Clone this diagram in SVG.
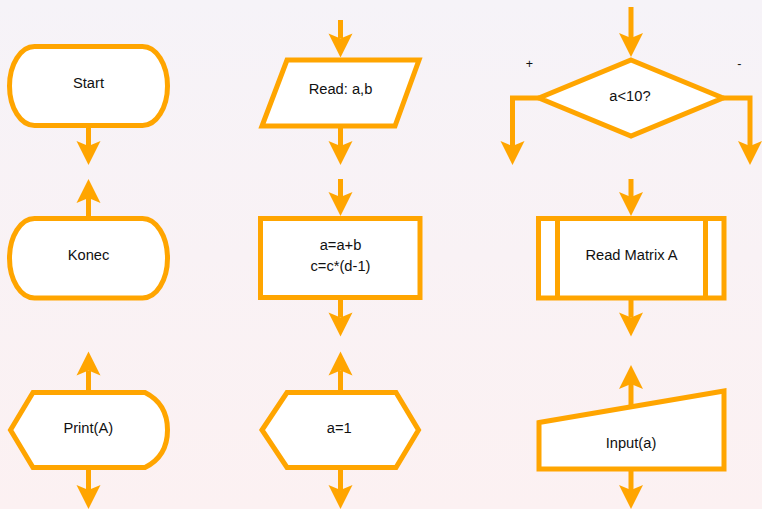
<svg xmlns="http://www.w3.org/2000/svg" width="762" height="509" viewBox="0 0 762 509">
  <defs>
    <linearGradient id="bg" x1="0" y1="0" x2="0" y2="1">
      <stop offset="0" stop-color="#F6F3F8"/>
      <stop offset="1" stop-color="#FCF1F2"/>
    </linearGradient>
    <marker id="arrow" markerUnits="userSpaceOnUse" viewBox="-6 -13 26 26" markerWidth="26" markerHeight="26" refX="0" refY="0" orient="auto">
      <path d="M-5,-12 L19,0 L-5,12 L0,0 Z" fill="#FFA500"/>
    </marker>
  </defs>
  <style>
    .shape { fill: #FFFFFF; stroke: #FFA500; stroke-width: 5; stroke-linejoin: miter; }
    .edge { fill: none; stroke: #FFA500; stroke-width: 5; marker-end: url(#arrow); }
    .label { font-family: "Liberation Sans", Arial, sans-serif; font-size: 14.7px; fill: #111111; text-anchor: middle; }
    .small { font-family: "Liberation Sans", Arial, sans-serif; font-size: 12.5px; fill: #111111; text-anchor: middle; }
  </style>
  <rect x="0" y="0" width="762" height="509" fill="url(#bg)"/>

  <g id="connectors">
    <path class="edge" d="M88.5,125.5 V146"/>
    <path class="edge" d="M88.5,218.5 V198"/>
    <path class="edge" d="M88.5,392.5 V370.5"/>
    <path class="edge" d="M88.5,467.5 V490"/>

    <path class="edge" d="M340.5,20 V38.5"/>
    <path class="edge" d="M340.5,126 V146"/>
    <path class="edge" d="M340.5,179 V197"/>
    <path class="edge" d="M340.5,297.5 V317.5"/>
    <path class="edge" d="M340.5,392.5 V370.5"/>
    <path class="edge" d="M340.5,467.5 V490"/>

    <path class="edge" d="M539,98 H512.5 V146"/>
    <path class="edge" d="M631,7 V38"/>
    <path class="edge" d="M723,98 H750 V146"/>
    <path class="edge" d="M631,179 V197"/>
    <path class="edge" d="M631,298 V317.5"/>
    <path class="edge" d="M631,407 V384"/>
    <path class="edge" d="M631,469 V490"/>
  </g>

  <g id="start">
    <rect class="shape" x="9.5" y="46.5" width="158" height="79" rx="25" ry="39.5"/>
    <text class="label" x="88.5" y="88">Start</text>
  </g>

  <g id="read-ab">
    <path class="shape" d="M287,60 L419,60 L395,126 L262,126 Z"/>
    <text class="label" x="340.5" y="94">Read: a,b</text>
  </g>

  <g id="decision">
    <path class="shape" d="M631,60 L723,98 L631,136 L539,98 Z"/>
    <text class="label" x="630" y="101">a&lt;10?</text>
    <text class="small" x="529.3" y="68">+</text>
    <text class="small" x="739.3" y="68">-</text>
  </g>

  <g id="konec">
    <rect class="shape" x="9.5" y="218.5" width="158" height="79.5" rx="25" ry="39.75"/>
    <text class="label" x="88.5" y="260">Konec</text>
  </g>

  <g id="process">
    <rect class="shape" x="260.5" y="218.5" width="159.5" height="79"/>
    <text class="label" x="340.5" y="250">a=a+b</text>
    <text class="label" x="340.5" y="270.5">c=c*(d-1)</text>
  </g>

  <g id="read-matrix">
    <rect class="shape" x="538.5" y="218.5" width="185.5" height="79.5"/>
    <line x1="557.5" y1="218.5" x2="557.5" y2="298" stroke="#FFA500" stroke-width="5"/>
    <line x1="705.5" y1="218.5" x2="705.5" y2="298" stroke="#FFA500" stroke-width="5"/>
    <text class="label" x="631.5" y="260">Read Matrix A</text>
  </g>

  <g id="print">
    <path class="shape" d="M10.5,430 L33,392.5 L145,392.5 C160,400 167.5,412 167.5,430 C167.5,448 160,460 145,467.5 L33,467.5 Z"/>
    <text class="label" x="88.3" y="432.5">Print(A)</text>
  </g>

  <g id="assign">
    <path class="shape" d="M262,430 L287,392.5 L396,392.5 L418.5,430 L396,467.5 L287,467.5 Z"/>
    <text class="label" x="339.3" y="432.5">a=1</text>
  </g>

  <g id="input">
    <path class="shape" d="M539,422.5 L724,391 L724,469 L539,469 Z"/>
    <text class="label" x="631" y="448">Input(a)</text>
  </g>
</svg>
